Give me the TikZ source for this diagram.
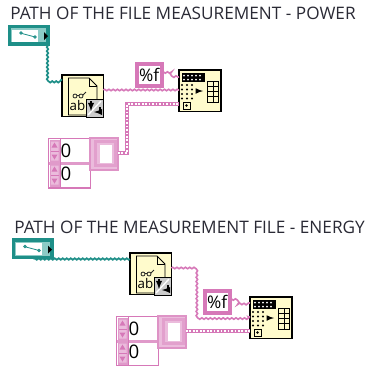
\documentclass[tikz,border=0pt]{standalone}
\usepackage{fontspec}
\setmainfont{Open Sans}
\usetikzlibrary{decorations.pathmorphing,calc}
\definecolor{tealw}{HTML}{1E8F88}
\definecolor{tealp}{HTML}{8CCBC6}
\definecolor{pinkw}{HTML}{D678B8}
\definecolor{pinkp}{HTML}{EBBBDC}
\definecolor{creamb}{HTML}{FFFBCC}
\definecolor{inkc}{HTML}{2A2A35}
\tikzset{
  vi/.style={draw=black,line width=.8pt,fill=creamb,minimum width=31pt,minimum height=31pt,inner sep=0pt,outer sep=0pt,anchor=north west},
  fmtbox/.style={vi,minimum width=31.5pt,minimum height=31pt},
  pctbox/.style={draw=pinkw,line width=3pt,fill=white,inner sep=0pt,outer sep=0pt,anchor=north west,minimum width=19pt,minimum height=17pt,font=\fontsize{13}{13}\selectfont,text=black},
  pathbox/.style={draw=tealw,line width=2.6pt,fill=tealp,inner sep=0pt,outer sep=0pt,anchor=north west,minimum width=29pt,minimum height=13pt},
  arrbox/.style={draw=pinkw,line width=1.2pt,fill=white,inner sep=0pt,outer sep=0pt,anchor=north west,minimum width=31.5pt,minimum height=37pt},
  framebox/.style={draw=pinkw!80,line width=1pt,fill=pinkp,inner sep=0pt,outer sep=0pt,anchor=north west,minimum width=21pt,minimum height=24pt},
  title/.style={anchor=base west,inner sep=0pt,text=inkc,font=\fontsize{12.9}{13}\selectfont},
  numtxt/.style={inner sep=0pt,font=\fontsize{14}{14}\selectfont,text=black},
  wiret/.style={draw=tealw,line width=1.3pt,decorate,decoration={snake,amplitude=.55pt,segment length=3pt}},
  wirep/.style={draw=pinkw,line width=1.2pt,decorate,decoration={snake,amplitude=.55pt,segment length=3.2pt}},
  wirea/.style={draw=pinkw,line width=3.4pt},
  wireb/.style={draw=white,line width=1.2pt,dash pattern=on 1.3pt off 1.3pt},
}
\newcommand\readdetail[1]{\begin{scope}[shift={(#1)}]
    \draw[fill=creamb,line width=.7pt] (6.5,3)--(27,3)--(35,11)--(35,40)--(6.5,40)--cycle;
    \draw[line width=.6pt] (27,3)--(27,11)--(35,11);
    \draw[line width=.6pt,black!85] (13,21) circle (2) (19,21) circle (2) (15,20.5)--(17,20.5) (21,20)--(24,17);
    \node[inner sep=0pt,font=\fontsize{10}{10}\selectfont,text=black] at (15.5,30) {ab};
    \draw[fill=black!20,line width=.7pt] (24.5,24)rectangle(41,42);
    \draw[white,line width=1pt] (26,40)--(39,26);
    \draw[-latex,line width=1.1pt] (29,26)--(29,36);
    \draw[-latex,line width=1.1pt] (38,32)--(38,37)--(32,37);
\end{scope}}
\newcommand\fmtdetail[1]{\begin{scope}[shift={(#1)}]
    \fill[black] (3,3) rectangle (26,12);
    \foreach \x in {5,9,...,24}{\foreach \y in {5.5,9.5}{\fill[white] (\x,\y) circle (1);}}
    \foreach \x in {3,8,13}{\foreach \y in {15,19.5,24,28.5}{\fill (\x,\y) circle (1.1);}}
    \draw[line width=.7pt] (4,32) rectangle (11,39);
    \fill (7.5,35.5) circle (1.3);
    \draw[-latex,line width=.9pt] (17.5,21)--(24,21);
    \draw[line width=.7pt] (28.5,11) rectangle (39.5,32);
    \draw[line width=.6pt] (34,11)--(34,32) (28.5,16.2)--(39.5,16.2) (28.5,21.5)--(39.5,21.5) (28.5,26.7)--(39.5,26.7);
\end{scope}}
\newcommand\arrdetail[1]{\begin{scope}[shift={(#1)}]
    \fill[pinkw!75] (1,1) rectangle (12,48);
    \fill[pinkp] (2.5,3) rectangle (10,22) (2.5,27) rectangle (10,46);
    \foreach \y in {3,27}{
      \fill[pinkw] (6,\y+1)--(9,\y+6)--(3,\y+6)--cycle;
      \fill[pinkw] (6,\y+18)--(9,\y+13)--(3,\y+13)--cycle;
      \draw[pinkw,line width=.5pt] (2.5,\y+9.5)--(10,\y+9.5);
    }
    \fill[pinkw!75] (0,23) rectangle (42,26);
    \draw[pinkw,line width=.8pt] (12,0) -- (12,49);
\end{scope}}
\newcommand\framedetail[1]{\begin{scope}[shift={(#1)}]
    \fill[pinkw!70] (4,2) rectangle (27,29);
    \fill[pinkp] (7,5) rectangle (24,26);
    \fill[white] (10,7) rectangle (22,25);
\end{scope}}
\newcommand\pathdetail[1]{\begin{scope}[shift={(#1)}]
    \fill[white] (2.5,3) rectangle (28.5,15);
    \fill[tealp] (28.5,3) rectangle (36,15);
    \fill[black] (34.5,5.5)--(38.5,9.5)--(34.5,13.5)--cycle;
    \draw[tealw,line width=.6pt,fill=tealp] (11.5,6.5) circle (1.2);
    \draw[tealw,line width=.6pt,fill=tealp] (25.5,10.5) circle (1.2);
    \draw[tealw,line width=.6pt] (12.5,7)--(24.5,10.2);
\end{scope}}
\begin{document}
\begin{tikzpicture}[x=.75pt,y=-.75pt]
\useasboundingbox[fill=white] (0,0) rectangle (366,365);
\node[title] (t1) at (10,19) {PATH OF THE FILE MEASUREMENT - POWER};
\node[title] (t2) at (14,233) {PATH OF THE MEASUREMENT FILE - ENERGY};

% top group
\node[pathbox] (pa) at (9.5,26.5) {};
\pathdetail{pa.north west}
\node[vi] (ra) at (62,75) {};
\readdetail{ra.north west}
\node[pctbox] (fa) at (136.5,63.5) {\%f};
\node[fmtbox] (ma) at (179,70) {};
\fmtdetail{ma.north west}
\node[arrbox] (aa) at (48.5,138.5) {};
\arrdetail{aa.north west}
\node[numtxt] (na1) at (66,151) {0};
\node[numtxt] (na2) at (66,174) {0};
\node[framebox] (ba) at (90,138) {};
\framedetail{ba.north west}

\coordinate (pa-o) at ($(pa.south west)+(38,0)$);
\coordinate (ra-i) at ($(ra.north west)+(0,5)$);
\coordinate (ra-o) at ($(ra.north east)+(0,15)$);
\coordinate (ma-a) at ($(ma.north west)+(0,7)$);
\coordinate (ma-b) at ($(ma.north west)+(0,20)$);
\coordinate (ma-c) at ($(ma.north west)+(0,34)$);
\coordinate (fa-o) at ($(fa.north east)+(0,9)$);
\coordinate (ba-o) at ($(ba.north east)+(0,15)$);

\draw[wiret] (pa-o) -- (pa-o |- ra-i) -- (ra-i);
\draw[wirep] (ra-o) -- (ma-b);
\draw[wirep] (fa-o) -- ++(8,0) -- ++(0,5) -- (ma-a);
\draw[wirea] (ba-o) -| ($(ba-o)+(9,0)$) |- (ma-c);
\draw[wireb] (ba-o) -| ($(ba-o)+(9,0)$) |- (ma-c);

% bottom group
\node[pathbox] (pb) at (13.5,240) {};
\pathdetail{pb.north west}
\node[vi] (rb) at (130,253) {};
\readdetail{rb.north west}
\node[pctbox] (fb) at (204.5,290.5) {\%f};
\node[fmtbox] (mb) at (250,297) {};
\fmtdetail{mb.north west}
\node[arrbox] (ab) at (116.5,316.5) {};
\arrdetail{ab.north west}
\node[numtxt] (nb1) at (134,329) {0};
\node[numtxt] (nb2) at (134,352) {0};
\node[framebox] (bb) at (158,316) {};
\framedetail{bb.north west}

\coordinate (rb-i) at ($(rb.north west)+(0,6)$);
\coordinate (pb-o) at ($(pb.south west |- rb-i)+(20,0)$);
\coordinate (rb-o) at ($(rb.north east)+(0,15)$);
\coordinate (mb-a) at ($(mb.north west)+(0,6)$);
\coordinate (mb-b) at ($(mb.north west)+(0,20)$);
\coordinate (mb-c) at ($(mb.north west)+(0,34)$);
\coordinate (fb-o) at ($(fb.north east)+(0,9)$);
\coordinate (bb-o) at ($(bb.north east)+(0,15)$);

\draw[wiret] (pb-o) -- (rb-i);
\draw[wirep] (rb-o) -- ++(24,0) -- ++(0,49) -- (mb-b);
\draw[wirep] (fb-o) -- ++(7,0) -- ++(0,3) -- (mb-a);
\draw[wirea] (bb-o) -- (mb-c);
\draw[wireb] (bb-o) -- (mb-c);
\end{tikzpicture}
\end{document}
